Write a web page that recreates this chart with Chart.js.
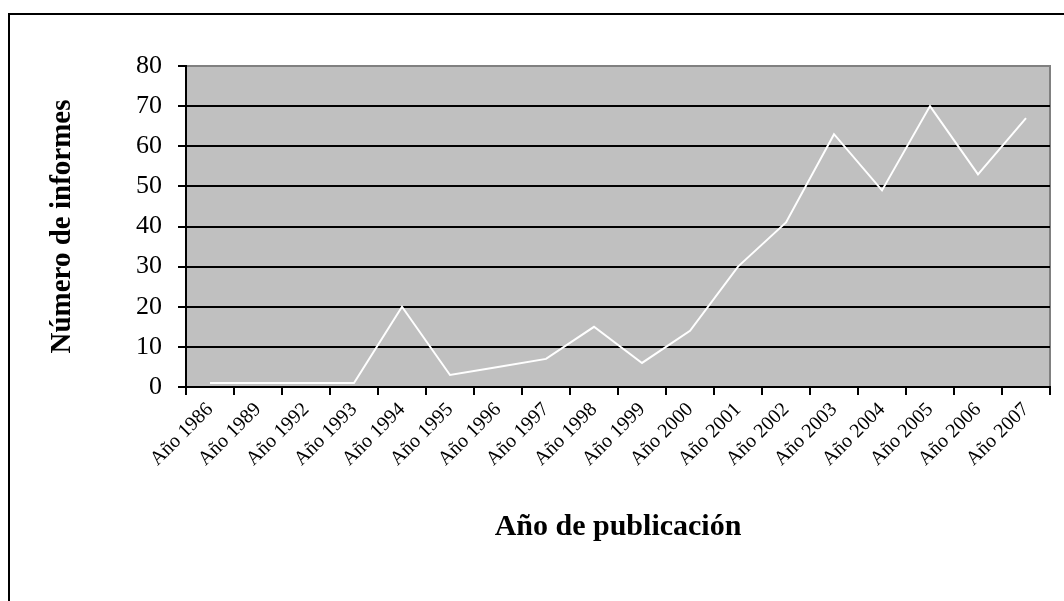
<!DOCTYPE html>
<html>
<head>
<meta charset="utf-8">
<script src="https://cdn.jsdelivr.net/npm/chart.js@4/dist/chart.umd.min.js"></script>
<style>
  body { margin: 0; background: #fff; overflow: hidden; }
  #marco { position: absolute; left: 8px; top: 13px; width: 2000px; height: 2000px;
           border-top: 2px solid #000; border-left: 2px solid #000; pointer-events: none; }
</style>
</head>
<body>
<canvas id="grafica" width="1064" height="601"></canvas>
<div id="marco"></div>
<script>
// datos
const anios = ['Año 1986', 'Año 1989', 'Año 1992', 'Año 1993', 'Año 1994', 'Año 1995',
               'Año 1996', 'Año 1997', 'Año 1998', 'Año 1999', 'Año 2000', 'Año 2001',
               'Año 2002', 'Año 2003', 'Año 2004', 'Año 2005', 'Año 2006', 'Año 2007'];
const informes = [1, 1, 1, 1, 20, 3, 5, 7, 15, 6, 14, 30, 41, 63, 49, 70, 53, 67];
const ticksY = [0, 10, 20, 30, 40, 50, 60, 70, 80];

const fuente = "'Liberation Serif', 'DejaVu Serif', serif";

// fondo gris del area de trazado
const fondoGris = {
    id: 'fondoGris',
    beforeDraw(chart) {
        const { ctx, chartArea } = chart;
        ctx.save();
        ctx.fillStyle = '#C0C0C0';
        ctx.fillRect(chartArea.left, chartArea.top, chartArea.right - chartArea.left, chartArea.bottom - chartArea.top);
        ctx.strokeStyle = '#808080';
        ctx.lineWidth = 2;
        ctx.strokeRect(chartArea.left, chartArea.top, chartArea.right - chartArea.left, chartArea.bottom - chartArea.top);
        ctx.restore();
    }
};

const ctx = document.getElementById('grafica').getContext('2d');
new Chart(ctx, {
    type: 'line',
    data: {
        labels: anios,
        datasets: [{
            label: 'Número de informes',
            data: informes,
            borderColor: '#FFFFFF',
            borderWidth: 2,
            pointRadius: 0,
            fill: false,
            tension: 0
        }]
    },
    options: {
        responsive: false,
        animation: false,
        events: [],
        layout: { padding: { top: 66, right: 14, left: 0, bottom: 0 } },
        plugins: {
            legend: { display: false },
            tooltip: { enabled: false }
        },
        scales: {
            x: {
                offset: true,
                grid: {
                    offset: true,
                    drawOnChartArea: false,
                    color: '#000',
                    lineWidth: 2,
                    tickLength: 8
                },
                border: { color: '#000', width: 2 },
                ticks: {
                    autoSkip: false,
                    maxRotation: 45,
                    minRotation: 45,
                    color: '#000',
                    padding: 3,
                    font: { family: fuente, size: 20 }
                },
                title: {
                    display: true,
                    text: 'Año de publicación',
                    color: '#000',
                    padding: { top: 0, bottom: 56 },
                    font: { family: fuente, size: 30, weight: 'bold' }
                },
                afterFit(scale) { scale.height = 214; }
            },
            y: {
                min: 0,
                max: 80,
                afterBuildTicks(scale) { scale.ticks = ticksY.map(v => ({ value: v })); },
                grid: {
                    color: c => (c.tick && c.tick.value === 80 ? '#808080' : '#000'),
                    tickColor: '#000',
                    lineWidth: 2,
                    tickLength: 8
                },
                border: { color: '#000', width: 2 },
                ticks: {
                    color: '#000',
                    padding: 16,
                    font: { family: fuente, size: 26 }
                },
                title: {
                    display: true,
                    text: 'Número de informes',
                    color: '#000',
                    padding: { top: 45, bottom: 0 },
                    font: { family: fuente, size: 29, weight: 'bold' }
                },
                afterFit(scale) { scale.width = 186; }
            }
        }
    },
    plugins: [fondoGris]
});
</script>
</body>
</html>
